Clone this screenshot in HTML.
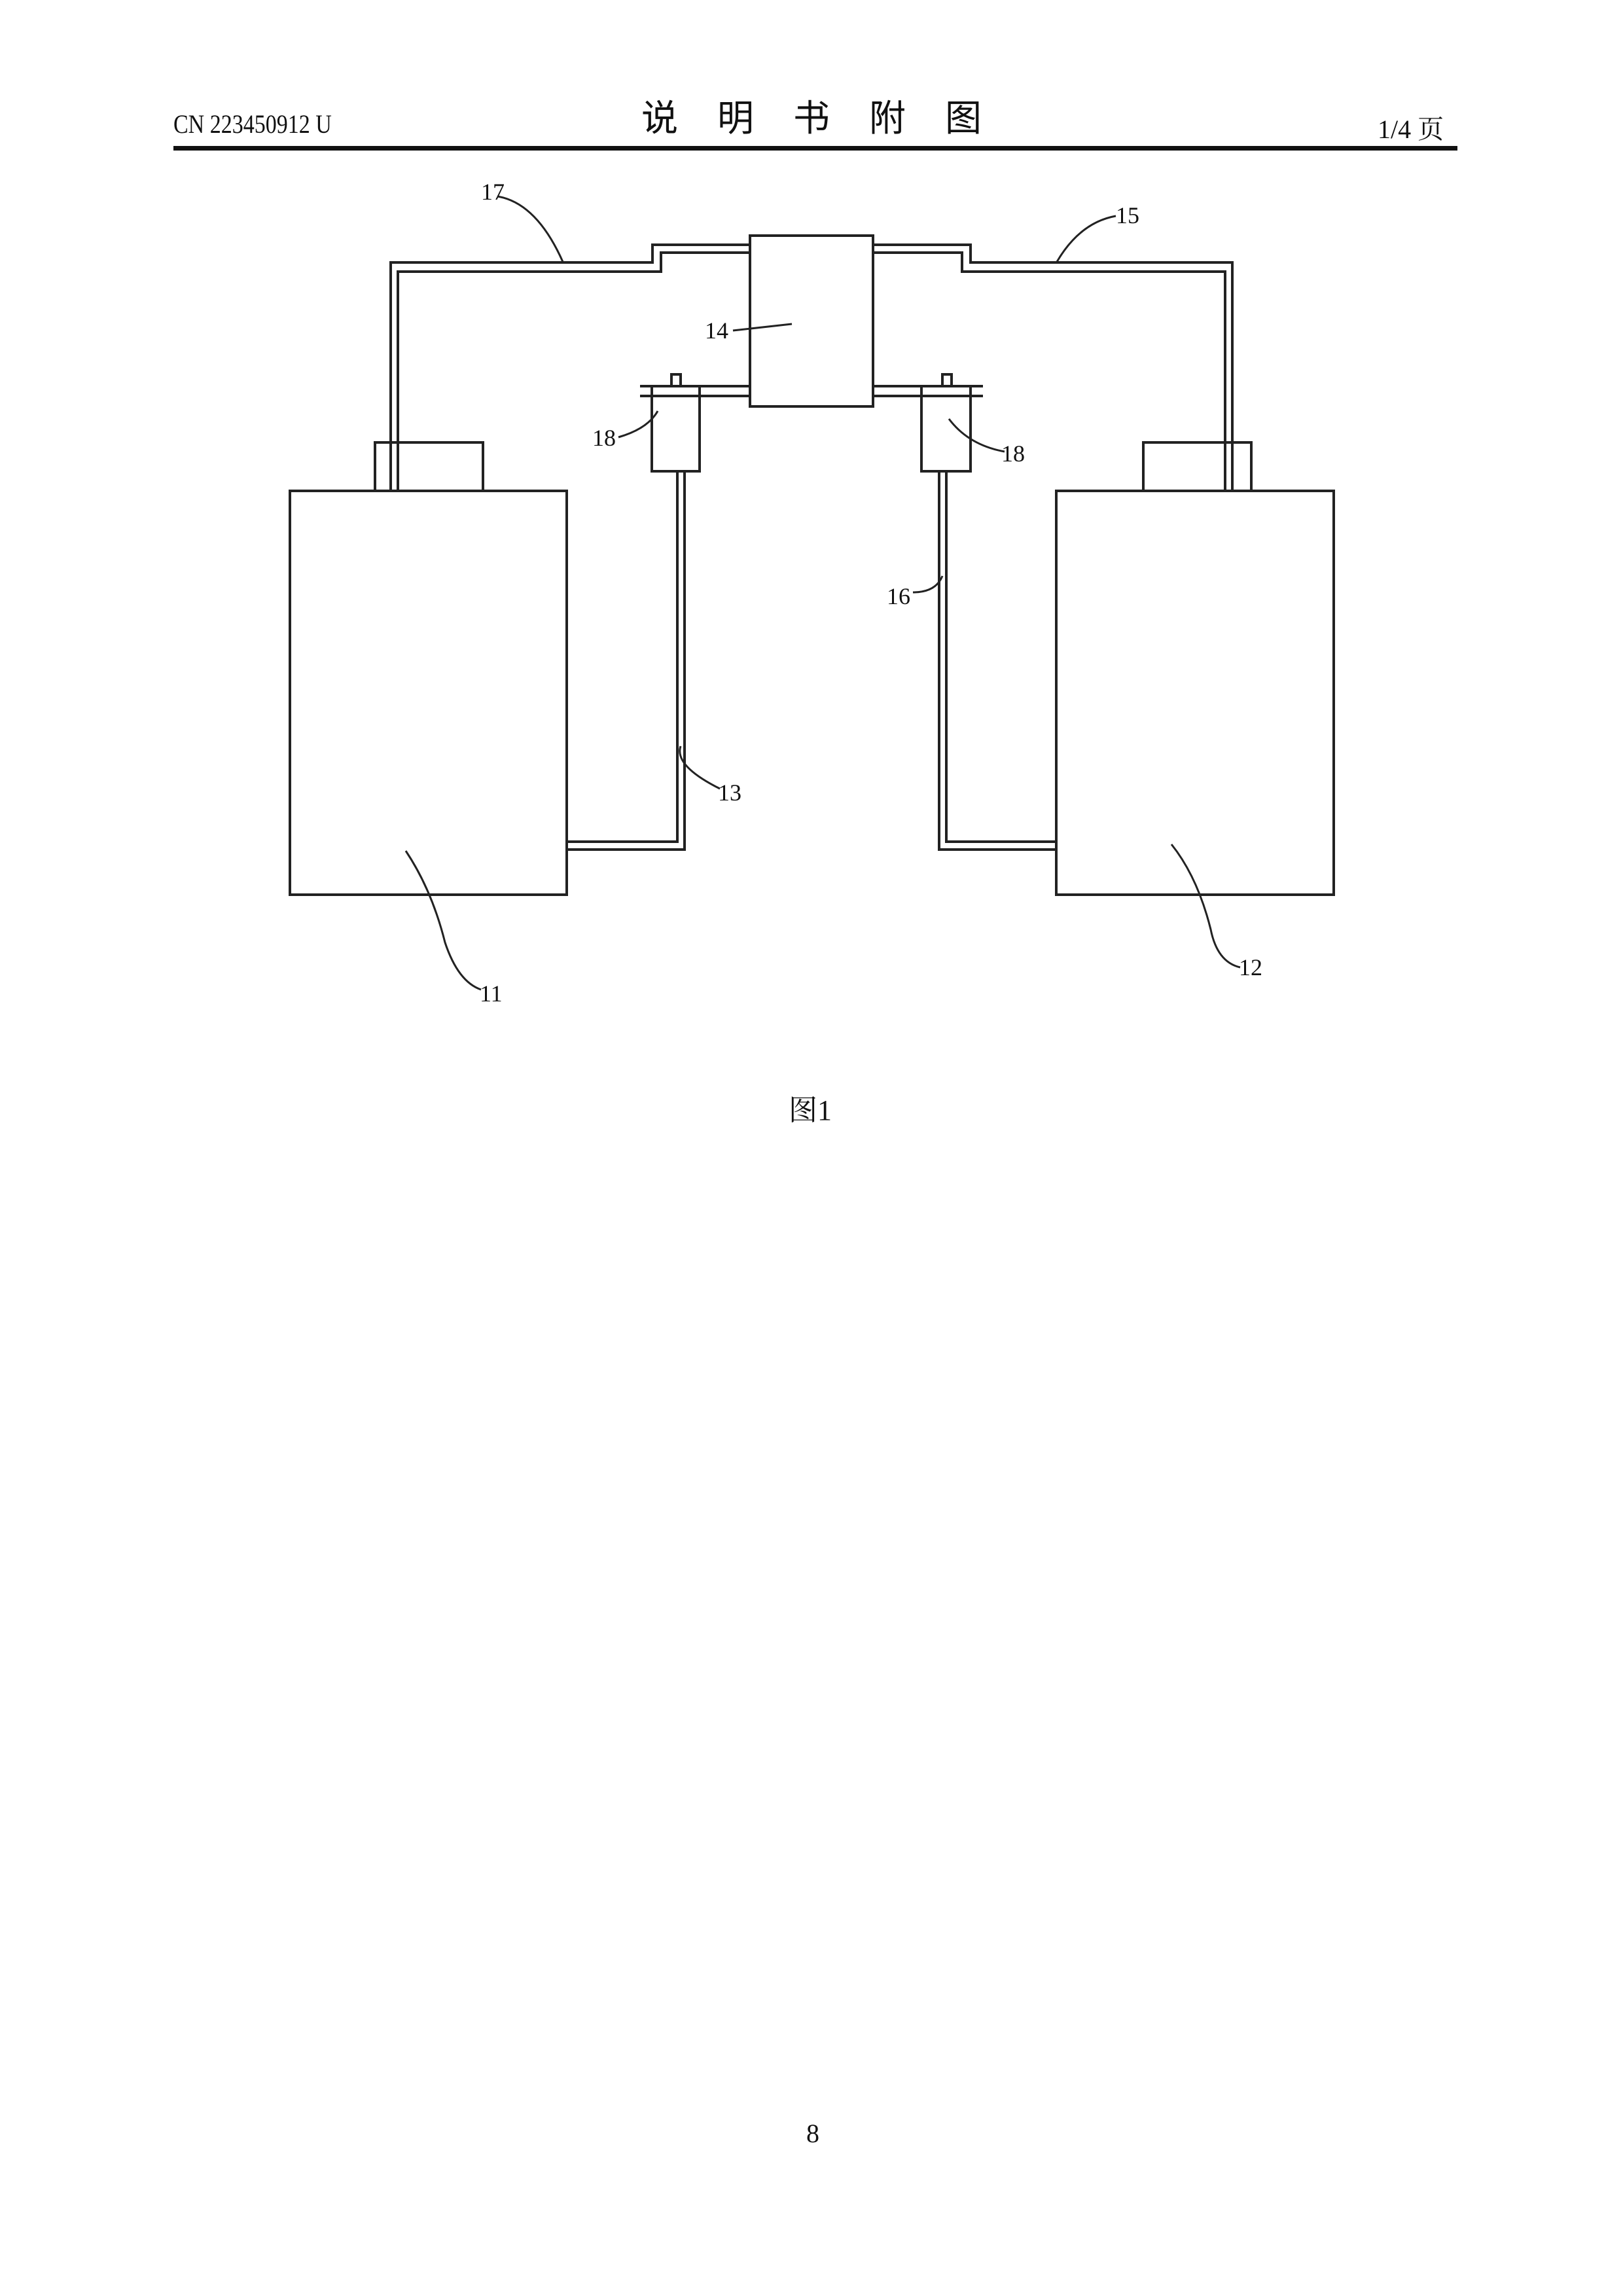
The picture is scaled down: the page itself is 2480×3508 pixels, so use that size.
<!DOCTYPE html>
<html><head><meta charset="utf-8"><style>
body{margin:0;background:#fff}
.p{position:relative;width:2480px;height:3508px;overflow:hidden;background:#fff}
.t{position:absolute;white-space:nowrap;color:#111}
</style></head><body><div class="p">
<div class="t" style="left:265px;top:166px;font:40px 'Liberation Serif','Noto Serif CJK SC',serif;transform:scaleX(0.85);transform-origin:left">CN 223450912 U</div>
<div class="t" style="left:980px;top:136px;font:56px 'Noto Sans CJK SC',sans-serif;letter-spacing:60px">说明书附图</div>
<div class="t" style="left:2105px;top:166px;font:40px 'Liberation Serif','Noto Serif CJK SC',serif">1/4 页</div>
<div style="position:absolute;left:265px;top:223px;width:1962px;height:7px;background:#111"></div>
<svg width="2480" height="3508" style="position:absolute;left:0;top:0" fill="none" stroke="#222" stroke-width="4">
<rect x="443" y="750" width="423" height="617"/>
<rect x="1614" y="750" width="424" height="617"/>
<rect x="573" y="676" width="165" height="74"/>
<rect x="1747" y="676" width="165" height="74"/>
<rect x="1146" y="360" width="188" height="261"/>
<polyline points="597,750 597,401 997,401 997,374 1146,374"/>
<polyline points="608,750 608,415 1010,415 1010,386 1146,386"/>
<polyline points="1883,750 1883,401 1483,401 1483,374 1334,374"/>
<polyline points="1872,750 1872,415 1470,415 1470,386 1334,386"/>
<rect x="996" y="590" width="73" height="130"/>
<rect x="1408" y="590" width="75" height="130"/>
<polyline points="978,590 1146,590"/><polyline points="978,605 1146,605"/>
<polyline points="1334,590 1502,590"/><polyline points="1334,605 1502,605"/>
<rect x="1026" y="572" width="14" height="18"/>
<rect x="1440" y="572" width="14" height="18"/>
<polyline points="1035,720 1035,1286 866,1286"/>
<polyline points="1046,720 1046,1298 866,1298"/>
<polyline points="1446,720 1446,1286 1614,1286"/>
<polyline points="1435,720 1435,1298 1614,1298"/>
<g stroke-width="3">
<path d="M760,300 Q820,310 860,400"/>
<path d="M1705,330 Q1650,340 1615,400"/>
<path d="M1120,505 L1210,495"/>
<path d="M945,668 Q990,655 1005,628"/>
<path d="M1535,690 Q1480,680 1450,640"/>
<path d="M1395,905 Q1430,905 1440,880"/>
<path d="M1100,1205 Q1030,1170 1040,1140"/>
<path d="M735,1512 Q700,1500 680,1440 Q660,1360 620,1300"/>
<path d="M1895,1478 Q1860,1470 1850,1420 Q1830,1340 1790,1290"/>
</g>
</svg>
<div class="t" style="left:735px;top:272px;font:36px 'Liberation Serif',serif">17</div>
<div class="t" style="left:1705px;top:308px;font:36px 'Liberation Serif',serif">15</div>
<div class="t" style="left:1077px;top:484px;font:36px 'Liberation Serif',serif">14</div>
<div class="t" style="left:905px;top:648px;font:36px 'Liberation Serif',serif">18</div>
<div class="t" style="left:1530px;top:672px;font:36px 'Liberation Serif',serif">18</div>
<div class="t" style="left:1355px;top:890px;font:36px 'Liberation Serif',serif">16</div>
<div class="t" style="left:1097px;top:1190px;font:36px 'Liberation Serif',serif">13</div>
<div class="t" style="left:733px;top:1497px;font:36px 'Liberation Serif',serif">11</div>
<div class="t" style="left:1893px;top:1457px;font:36px 'Liberation Serif',serif">12</div>
<div class="t" style="left:1205px;top:1660px;font:44px 'Liberation Serif','Noto Serif CJK SC',serif">图1</div>
<div class="t" style="left:1232px;top:3236px;font:40px 'Liberation Serif',serif">8</div>
</div></body></html>
